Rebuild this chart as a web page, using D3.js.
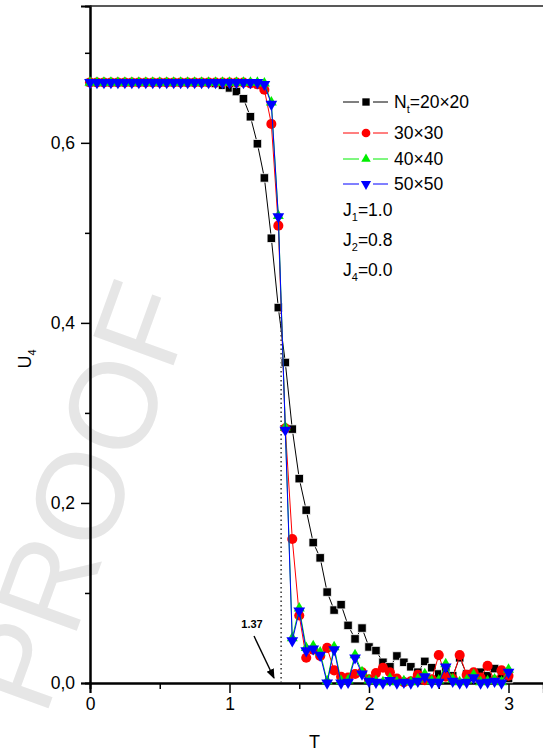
<!DOCTYPE html>
<html>
<head>
<meta charset="utf-8">
<script src="https://cdn.jsdelivr.net/npm/d3@7"></script>
<style>
    body { margin: 0; background: #fff; }
    svg text { font-family: "Liberation Sans", Arial, sans-serif; }
</style>
</head>
<body>
<svg id="chart"></svg>
<script>
// Temperature grid (T), step 0.05
const temps = [0.00, 0.05, 0.10, 0.15, 0.20, 0.25, 0.30, 0.35, 0.40, 0.45,
    0.50, 0.55, 0.60, 0.65, 0.70, 0.75, 0.80, 0.85, 0.90, 0.95,
    1.00, 1.05, 1.10, 1.15, 1.20, 1.25, 1.30, 1.35, 1.40, 1.45,
    1.50, 1.55, 1.60, 1.65, 1.70, 1.75, 1.80, 1.85, 1.90, 1.95,
    2.00, 2.05, 2.10, 2.15, 2.20, 2.25, 2.30, 2.35, 2.40, 2.45,
    2.50, 2.55, 2.60, 2.65, 2.70, 2.75, 2.80, 2.85, 2.90, 2.95, 3.00];

// U4 for each lattice size
const u20 = [0.667, 0.667, 0.667, 0.667, 0.667, 0.667, 0.667, 0.667, 0.667, 0.667,
    0.667, 0.667, 0.667, 0.667, 0.667, 0.667, 0.667, 0.667, 0.666, 0.664,
    0.661, 0.657, 0.649, 0.629, 0.599, 0.561, 0.494, 0.417, 0.356, 0.282,
    0.227, 0.192, 0.156, 0.139, 0.101, 0.081, 0.087, 0.064, 0.049, 0.061,
    0.040, 0.036, 0.023, 0.018, 0.030, 0.023, 0.018, 0.012, 0.024, 0.017,
    0.010, 0.015, 0.008, 0.028, 0.010, 0.006, 0.012, 0.008, 0.016, 0.010, 0.005];
const u30 = [0.667, 0.667, 0.667, 0.667, 0.667, 0.667, 0.667, 0.667, 0.667, 0.667,
    0.667, 0.667, 0.667, 0.667, 0.667, 0.667, 0.667, 0.667, 0.667, 0.667,
    0.667, 0.667, 0.667, 0.666, 0.665, 0.659, 0.621, 0.508, 0.283, 0.160,
    0.075, 0.028, 0.037, 0.030, 0.039, 0.014, 0.007, 0.006, 0.010, 0.012,
    0.004, 0.011, 0.017, 0.012, 0.005, 0.001, 0.002, 0.009, 0.003, 0.004,
    0.031, 0.007, 0.005, 0.031, 0.009, 0.012, 0.006, 0.019, 0.003, 0.014, 0.008];
const u40 = [0.667, 0.667, 0.667, 0.667, 0.667, 0.667, 0.667, 0.667, 0.667, 0.667,
    0.667, 0.667, 0.667, 0.667, 0.667, 0.667, 0.667, 0.667, 0.667, 0.667,
    0.667, 0.667, 0.667, 0.667, 0.667, 0.666, 0.645, 0.519, 0.284, 0.050,
    0.083, 0.039, 0.041, 0.034, 0.002, 0.040, 0.002, 0.003, 0.031, 0.012,
    0.003, 0.002, 0.001, 0.005, 0.001, 0.002, 0.001, 0.004, 0.010, 0.002,
    0.003, 0.021, 0.004, 0.001, 0.003, 0.009, 0.001, 0.002, 0.004, 0.001, 0.015];
const u50 = [0.667, 0.667, 0.667, 0.667, 0.667, 0.667, 0.667, 0.667, 0.667, 0.667,
    0.667, 0.667, 0.667, 0.667, 0.667, 0.667, 0.667, 0.667, 0.667, 0.667,
    0.667, 0.667, 0.667, 0.667, 0.667, 0.665, 0.643, 0.518, 0.281, 0.047,
    0.080, 0.036, 0.038, 0.031, 0.000, 0.037, 0.000, 0.001, 0.028, 0.010,
    0.002, 0.001, 0.000, 0.003, 0.000, 0.001, 0.000, 0.002, 0.007, 0.001,
    0.001, 0.018, 0.002, 0.000, 0.001, 0.006, 0.000, 0.001, 0.002, 0.000, 0.012];

const seriesNames = ['20×20', '30×30', '40×40', '50×50'];
const couplings = ['1.0', '0.8', '0.0'];
const couplingIdx = ['1', '2', '4'];
const xTicks = [0, 1, 2, 3];
const xMinorTicks = [0.5, 1.5, 2.5];
const yTicks = [0, 0.2, 0.4, 0.6];
const yMinorTicks = [0.1, 0.3, 0.5, 0.7];
const tc = 1.37;

const width = 543, height = 753;
const margin = {top: 6, left: 90, bottom: 70};

const svg = d3.select('#chart')
    .attr('width', width)
    .attr('height', height);

// watermark behind everything (cut at the left edge, as in the scan)
svg.append('text')
    .attr('transform', 'translate(80,496) rotate(-70)')
    .attr('text-anchor', 'middle')
    .attr('dominant-baseline', 'central')
    .style('font-size', '124px')
    .style('fill', '#e6e6e6')
    .text('PROOF');

const xScale = d3.scaleLinear().domain([0, 3.25]).range([margin.left, margin.left + 3.25 * 139.5]);
const yScale = d3.scaleLinear().domain([0, 0.752]).range([683, margin.top]);

const comma = d => d3.format('.1f')(d).replace('.', ',');

// axes
svg.append('g')
    .attr('transform', `translate(0,${yScale(0)})`)
    .call(d3.axisBottom(xScale).tickValues(xTicks).tickSize(10).tickPadding(5).tickFormat(d3.format('d')));
svg.append('g')
    .attr('transform', `translate(0,${yScale(0)})`)
    .call(d3.axisBottom(xScale).tickValues(xMinorTicks).tickSize(6).tickFormat(''));
svg.append('g')
    .attr('transform', `translate(${xScale(0)},0)`)
    .call(d3.axisLeft(yScale).tickValues(yTicks).tickSize(9).tickPadding(6).tickFormat(comma));
svg.append('g')
    .attr('transform', `translate(${xScale(0)},0)`)
    .call(d3.axisLeft(yScale).tickValues(yMinorTicks).tickSize(5).tickFormat(''));

svg.selectAll('.domain').attr('stroke', '#000').attr('stroke-width', 2);
svg.selectAll('.tick line').attr('stroke', '#000').attr('stroke-width', 1.5);
svg.selectAll('.tick text').style('font-size', '17.5px').attr('fill', '#000');

// top frame line
svg.append('line')
    .attr('x1', xScale(0)).attr('x2', width)
    .attr('y1', yScale(0.752)).attr('y2', yScale(0.752))
    .attr('stroke', '#222').attr('stroke-width', 1.5);

// axis titles
svg.append('text')
    .attr('x', xScale(1.61)).attr('y', 748)
    .attr('text-anchor', 'middle')
    .style('font-size', '18px')
    .text('T');
const yTitle = svg.append('text')
    .attr('transform', `translate(31,${yScale(0.36)}) rotate(-90)`)
    .attr('text-anchor', 'middle')
    .style('font-size', '18px');
yTitle.append('tspan').text('U');
yTitle.append('tspan').attr('dy', 5).style('font-size', '11px').text('4');

// critical temperature marker
svg.append('line')
    .attr('x1', xScale(tc)).attr('x2', xScale(tc))
    .attr('y1', yScale(0)).attr('y2', yScale(0.415))
    .attr('stroke', '#333').attr('stroke-width', 1.5)
    .attr('stroke-dasharray', '1.5,3');

svg.append('defs').append('marker')
    .attr('id', 'arrow')
    .attr('viewBox', '0 0 10 10')
    .attr('refX', 9).attr('refY', 5)
    .attr('markerWidth', 7).attr('markerHeight', 7)
    .attr('orient', 'auto')
    .append('path').attr('d', 'M0,1L10,5L0,9Z').attr('fill', '#000');
svg.append('line')
    .attr('x1', 254).attr('y1', 636)
    .attr('x2', 274).attr('y2', 678)
    .attr('stroke', '#000').attr('stroke-width', 1.4)
    .attr('marker-end', 'url(#arrow)');
svg.append('text')
    .attr('x', 252).attr('y', 628)
    .attr('text-anchor', 'middle')
    .style('font-size', '11px').style('font-weight', 'bold')
    .text(tc.toFixed(2));

// series
const series = [
    {name: seriesNames[0], values: u20, color: '#000000', symbol: d3.symbolSquare, size: 72, rot: 0, halo: '#fff'},
    {name: seriesNames[1], values: u30, color: '#ff0000', symbol: d3.symbolCircle, size: 80, rot: 0, halo: 'none'},
    {name: seriesNames[2], values: u40, color: '#00ee00', symbol: d3.symbolTriangle, size: 52, rot: 0, halo: 'none'},
    {name: seriesNames[3], values: u50, color: '#0000ff', symbol: d3.symbolTriangle, size: 60, rot: 180, halo: 'none'}
];

const line = d3.line()
    .x((d, i) => xScale(temps[i]))
    .y(d => yScale(d));

series.forEach(s => {
    const g = svg.append('g');
    g.append('path')
        .attr('d', line(s.values))
        .attr('fill', 'none')
        .attr('stroke', s.color)
        .attr('stroke-width', 1);
    g.selectAll('path.pt')
        .data(s.values)
        .join('path')
        .attr('class', 'pt')
        .attr('d', d3.symbol(s.symbol, s.size))
        .attr('transform', (d, i) => `translate(${xScale(temps[i])},${yScale(d)}) rotate(${s.rot})`)
        .attr('fill', s.color)
        .attr('stroke', s.halo)
        .attr('stroke-width', 0.8);
});

// legend
const legend = svg.append('g');
const rowY = [102, 133, 159, 184];
series.forEach((s, i) => {
    const y = rowY[i];
    legend.append('line').attr('x1', 343).attr('x2', 359).attr('y1', y).attr('y2', y)
        .attr('stroke', s.color).attr('stroke-width', 1);
    legend.append('line').attr('x1', 373).attr('x2', 388).attr('y1', y).attr('y2', y)
        .attr('stroke', s.color).attr('stroke-width', 1);
    legend.append('path')
        .attr('d', d3.symbol(s.symbol, s.size * 0.75))
        .attr('transform', `translate(366,${y}) rotate(${s.rot})`)
        .attr('fill', s.color);
    const t = legend.append('text')
        .attr('x', 394).attr('y', y + 6)
        .style('font-size', '17.5px');
    if (i === 0) {
        t.append('tspan').text('N');
        t.append('tspan').attr('dy', 5).style('font-size', '11px').text('t');
        t.append('tspan').attr('dy', -5).text('=' + s.name);
    } else {
        t.text(s.name);
    }
});

const jRowY = [216, 246, 276];
couplings.forEach((c, i) => {
    const t = legend.append('text')
        .attr('x', 343).attr('y', jRowY[i])
        .style('font-size', '17.5px');
    t.append('tspan').text('J');
    t.append('tspan').attr('dy', 5).style('font-size', '11px').text(couplingIdx[i]);
    t.append('tspan').attr('dy', -5).text('=' + c);
});
</script>
</body>
</html>
